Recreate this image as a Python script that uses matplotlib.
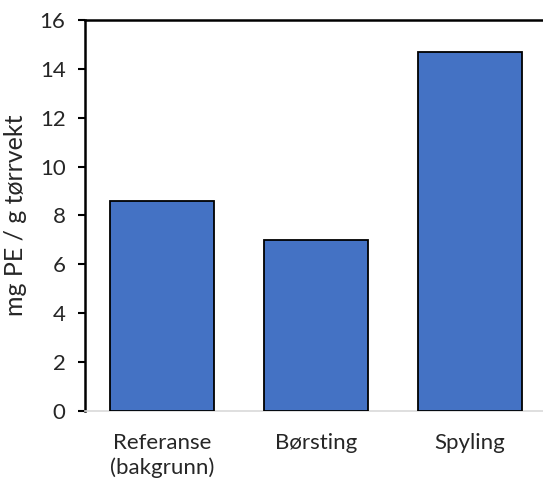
import matplotlib
matplotlib.use("Agg")
import matplotlib.pyplot as plt

categories = ["Referanse\n(bakgrunn)", "Børsting", "Spyling"]
values = [8.59, 6.98, 14.69]
y_ticks = [0, 2, 4, 6, 8, 10, 12, 14, 16]

plt.rcParams['font.family'] = ['Lato', 'DejaVu Sans']

fig = plt.figure(figsize=(5.43, 4.84), dpi=100)
ax = fig.add_axes([85 / 543, 1 - 410.7 / 484, 458 / 543, (410.7 - 20) / 484])

x = range(len(categories))
ax.bar(x, values, width=0.67, color='#4472C4', edgecolor='black', linewidth=1.3, zorder=3)

ax.set_xlim(-0.5, 2.474)
ax.set_ylim(0, 16)
ax.set_yticks(y_ticks)
ax.set_xticks(list(x))
ax.set_xticklabels(categories, fontsize=16, color='#262626', linespacing=1.3)
ax.tick_params(axis='y', labelsize=16, labelcolor='#262626', length=5, width=1.5, direction='out', pad=9)
ax.tick_params(axis='x', length=0, pad=16)
ax.set_ylabel("mg PE / g tørrvekt", fontsize=18, color='#262626', labelpad=9)

ax.spines['left'].set_linewidth(1.8)
ax.spines['top'].set_linewidth(1.8)
ax.spines['right'].set_visible(False)
ax.spines['bottom'].set_color('#D9D9D9')
ax.spines['bottom'].set_linewidth(1.2)

fig.savefig("out.png", dpi=100)
